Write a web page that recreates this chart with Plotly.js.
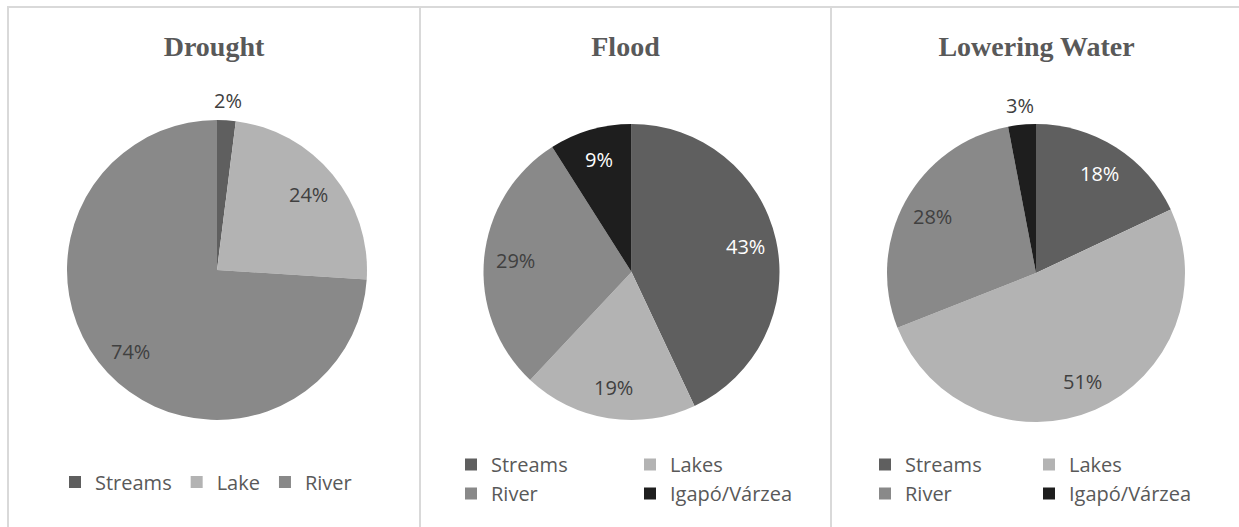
<!DOCTYPE html>
<html><head><meta charset="utf-8">
<script src="https://cdn.plot.ly/plotly-3.0.1.min.js"></script>
<style>
html,body{margin:0;padding:0;background:#fff;overflow:hidden;width:1239px;height:527px;}
.panel{position:absolute;top:6px;height:540px;box-sizing:border-box;border:2px solid #d9d9d9;background:#fff;}
.chart{position:absolute;left:0;top:0;}
</style></head><body>
<div class="panel" style="left:7px;width:414px;"><div class="chart" id="c1"></div></div>
<div class="panel" style="left:419px;width:413px;"><div class="chart" id="c2"></div></div>
<div class="panel" style="left:830px;width:413px;"><div class="chart" id="c3"></div></div>
<script>
// ---- data ----
const chartTitles = ['Drought', 'Flood', 'Lowering Water'];
const droughtLabels = ['Streams', 'Lake', 'River'];
const droughtValues = [2, 24, 74];
const habitatLabels = ['Streams', 'Lakes', 'River', 'Igapó/Várzea'];
const floodValues = [43, 19, 29, 9];
const loweringValues = [18, 51, 28, 3];

// ---- styles ----
const sliceColors = ['#5f5f5f', '#b3b3b3', '#898989', '#1e1e1e'];
const H = 519;
const panels = [
  {id: 'c1', ox: 9,   oy: 8, w: 410, cx: 217,   cy: 270, r: 150, labels: droughtLabels, values: droughtValues,
   legend: {x: 197 / 410, xanchor: 'center', yc: 474}},
  {id: 'c2', ox: 421, oy: 8, w: 409, cx: 631.5, cy: 272, r: 148, labels: habitatLabels, values: floodValues,
   legend: {x: 30 / 409, xanchor: 'left', yc: 471, entrywidth: 134}},
  {id: 'c3', ox: 832, oy: 8, w: 409, cx: 1036,  cy: 273, r: 149, labels: habitatLabels, values: loweringValues,
   legend: {x: 33 / 409, xanchor: 'left', yc: 471, entrywidth: 119}}
];

function isDark(hex) {
  const n = parseInt(hex.slice(1), 16);
  const lum = 0.299 * (n >> 16) + 0.587 * ((n >> 8) & 255) + 0.114 * (n & 255);
  return lum < 110;
}

panels.forEach((p, k) => {
  const W = p.w;
  const lx = p.cx - p.ox, ly = p.cy - p.oy;
  const domain = {
    x: [(lx - p.r) / W, (lx + p.r) / W],
    y: [1 - (ly + p.r) / H, 1 - (ly - p.r) / H]
  };
  const colors = sliceColors.slice(0, p.values.length);
  const trace = {
    type: 'pie', labels: p.labels, values: p.values, sort: false,
    direction: 'clockwise', rotation: 0, domain: domain,
    marker: {colors: colors, line: {width: 0}},
    textinfo: 'none', hoverinfo: 'skip'
  };
  const total = p.values.reduce((a, b) => a + b, 0);
  let cum = 0;
  const annotations = [];
  p.values.forEach((v, i) => {
    const frac = v / total;
    const mid = (cum + v / 2) / total * 2 * Math.PI;
    cum += v;
    const inside = frac >= 0.05;
    const d = (inside ? 0.79 : 1.13) * p.r;
    annotations.push({
      xref: 'paper', yref: 'paper',
      x: (lx + d * Math.sin(mid)) / W,
      y: 1 - (ly - d * Math.cos(mid)) / H,
      xanchor: 'center', yanchor: 'middle', showarrow: false,
      text: Math.round(frac * 100) + '%',
      font: {family: 'Open Sans, sans-serif', size: 20,
             color: (inside && isDark(colors[i])) ? '#ffffff' : '#404040'}
    });
  });
  const legend = {
    orientation: 'h', x: p.legend.x, xanchor: p.legend.xanchor,
    y: 1 - p.legend.yc / H, yanchor: 'middle',
    font: {family: 'Open Sans, sans-serif', size: 20, color: '#595959'},
    bgcolor: 'rgba(0,0,0,0)', traceorder: 'normal'
  };
  if (p.legend.entrywidth) legend.entrywidth = p.legend.entrywidth;
  const layout = {
    width: W, height: H,
    margin: {l: 0, r: 0, t: 0, b: 0},
    paper_bgcolor: '#ffffff',
    title: {text: chartTitles[k], x: 0.5, xanchor: 'center', xref: 'container',
            y: 1 - 38 / H, yanchor: 'middle', yref: 'container',
            font: {family: 'Liberation Serif, serif', size: 28, color: '#595959', weight: 'bold'}},
    showlegend: true, legend: legend,
    annotations: annotations
  };
  Plotly.newPlot(p.id, [trace], layout, {displayModeBar: false, staticPlot: true});
});
</script>
</body></html>
